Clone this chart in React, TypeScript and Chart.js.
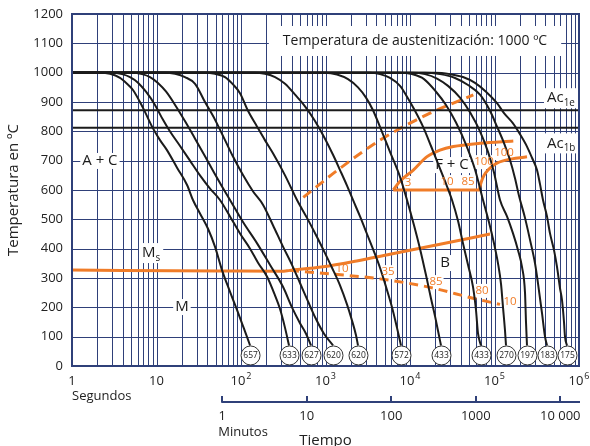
import React, { useEffect, useRef } from "react";
import { Chart, registerables } from "chart.js";

Chart.register(...registerables);

const FONT = '"Open Sans", "Noto Sans", "DejaVu Sans", sans-serif';
const NAVY = "#2f4079";
const ORANGE = "#f07c28";
const INK = "#1b1b1b";

type P = [number, number]; // [seconds, °C]

// ---- axes ----
const tempTicks = [0, 100, 200, 300, 400, 500, 600, 700, 800, 900, 1000, 1100, 1200];
const secondDecades = [1, 10, 100, 1000, 10000, 100000, 1000000];
const secondDecadeExp = ["", "", "2", "3", "4", "5", "6"];
const minuteTicks = [1, 10, 100, 1000, 10000];
const minuteTickLabels = ["1", "10", "100", "1000", "10 000"];
const SECONDS_PER_MINUTE = 60;

// ---- critical temperatures ----
const ac1e = 872;
const ac1b = 812;

// ---- cooling curves (time s, temperature °C) ----
const curve657: P[] = [[1,1000],[2.14,1000],[2.82,996],[3.7,982],[4.48,962],[5.27,941],[6.92,880],[9.09,810],[11,770],[13.3,736],[17.5,676],[23,617],[27,566],[32.7,520],[40.7,468],[49.2,407],[59.6,327],[72.1,262],[89.7,191],[106,135],[121,90],[128,70]];
const curve633: P[] = [[1,1000],[2.97,1000],[3.91,995],[4.86,985],[6.04,966],[7.51,935],[9.6,890],[11.9,840],[14.4,800],[19,750],[24.9,700],[32.7,650],[43,605],[56.4,566],[74.1,510],[97.3,452],[128,400],[159,352],[203,305],[253,240],[289,195],[332,130],[370,70]];
const curve627: P[] = [[1,1000],[5.13,1000],[6.74,995],[8.38,985],[10.4,965],[13,935],[16.6,890],[21.7,835],[28.6,775],[37.5,715],[47.9,660],[59.6,612],[74.1,566],[106,490],[155,418],[220,345],[314,270],[401,200],[499,146],[588,110],[674,70]];
const curve620a: P[] = [[1,1000],[12.6,1000],[16.6,996],[21.7,985],[28.6,962],[37.5,900],[49.2,840],[64.7,770],[80.4,714],[106,650],[139,595],[182,550],[239,480],[314,407],[401,345],[499,283],[621,220],[772,160],[960,110],[1227,70]];
const curve620b: P[] = [[1,1000],[37.5,1000],[49.2,996],[64.7,985],[80.4,960],[97.3,930],[121,870],[155,816],[192,770],[239,725],[332,650],[460,566],[604,505],[793,440],[986,385],[1194,335],[1485,275],[1796,210],[2059,155],[2296,105],[2424,70]];
const curve572: P[] = [[1,1000],[146,1000],[192,996],[253,985],[332,962],[436,925],[572,885],[751,835],[986,775],[1227,720],[1485,668],[1796,615],[2115,566],[2561,510],[3099,450],[3750,390],[4416,335],[5200,270],[6124,200],[7019,130],[7826,70]];
const curve433a: P[] = [[1,1000],[986,1000],[1368,994],[1846,978],[2424,950],[3016,915],[3649,872],[4416,815],[5799,730],[7616,645],[9216,566],[11150,480],[13130,400],[15460,310],[17720,230],[19770,170],[21450,120],[23280,70]];
const curve433b: P[] = [[1,1000],[3362,1000],[4416,995],[5799,982],[7616,955],[9216,918],[11460,870],[14250,816],[17720,750],[21450,690],[25960,630],[31410,566],[36980,495],[42390,418],[48580,345],[55670,270],[60410,190],[63800,111],[69240,70]];
const curve270: P[] = [[1,1000],[7616,1000],[10560,995],[14650,978],[20310,935],[26670,890],[35030,830],[45990,755],[58790,670],[73120,566],[86090,490],[98650,418],[110000,350],[119400,280],[126100,200],[133200,120],[136800,70]];
const curve197: P[] = [[1,1000],[10850,1000],[15050,995],[20870,980],[28170,955],[39060,915],[51310,865],[67380,800],[83780,730],[98650,660],[116200,566],[140600,510],[165600,452],[189800,395],[211500,338],[229600,250],[235900,150],[242400,70]];
const curve183: P[] = [[1,1000],[15050,1000],[22650,995],[34080,982],[48580,958],[67380,925],[88470,870],[107100,816],[129600,760],[152600,702],[174800,640],[195000,580],[229600,505],[263200,430],[301600,350],[327200,282],[364900,180],[396000,100],[418100,70]];
const curve175: P[] = [[1,1000],[19770,1000],[29750,995],[42390,985],[58790,965],[79320,935],[107100,896],[129600,862],[165600,827],[200400,790],[242400,748],[277800,710],[318500,668],[345500,620],[375000,566],[418100,510],[453800,452],[506000,395],[549200,338],[596000,265],[629400,225],[664500,150],[682800,100],[721000,70]];

const coolingLabels = ["657", "633", "627", "620", "620", "572", "433", "433", "270", "197", "183", "175"];
const coolingCurves = [curve657, curve633, curve627, curve620a, curve620b, curve572, curve433a, curve433b, curve270, curve197, curve183, curve175];

// ---- transformation lines ----
const msBainiteStart: P[] = [[1,327],[60,324],[300,323],[380,326],[942,338],[2340,358],[5800,381],[22650,415],[88500,450]];
const bainiteEnd: P[] = [[380,326],[1130,314],[4416,297],[17250,268],[55670,231],[116200,210]];
const ferriteStart: P[] = [[546,575],[1485,674],[4416,770],[17250,862],[56130,924]];
const ferriteUpper: P[] = [[6343,600],[7616,630],[10940,668],[15760,713],[22650,736],[32540,748],[67380,759],[166900,767]];
const ferriteLower: P[] = [[6343,600],[65560,600],[69240,625],[75110,650],[83780,668],[101400,688],[136800,702],[242400,713]];

// ---- annotations: [text, seconds, °C] ----
type L = [string, number, number];
const orangeLabels: L[] = [["3",9470,624],["10",27410,627],["85",48580,627],["100",75110,695],["100",129600,726],["10",1568,331],["35",5490,320],["85",20310,286],["80",71120,256],["10",152600,218]];
const phaseLabels: L[] = [["A + C",2.14,699],["M",20,201],["B",25960,351],["F + C",31410,685]];
type SL = [string, string, number, number]; // main, subscript, left seconds, °C
const subLabels: SL[] = [["M","s",6.74,385],["Ac","1e",418100,913],["Ac","1b",418100,759]];
const titleText = "Temperatura de austenitización: 1000 ºC";
const titlePos: P = [11460, 1108];

export default function App() {
  const ref = useRef<HTMLCanvasElement>(null);

  useEffect(() => {
    const canvas = ref.current;
    if (!canvas) return;
    const toXY = (pts: P[]) => pts.map(([x, y]) => ({ x, y }));
    const line = (pts: P[], color: string, width: number, dash: number[] = []) => ({
      data: toXY(pts),
      borderColor: color,
      borderWidth: width,
      borderDash: dash,
      pointRadius: 0,
      fill: false,
      cubicInterpolationMode: "monotone" as const,
      borderCapStyle: "butt" as const,
    });
    const datasets: any[] = [
      line([[secondDecades[0], ac1e], [secondDecades[6], ac1e]], INK, 2),
      line([[secondDecades[0], ac1b], [secondDecades[6], ac1b]], INK, 2),
      ...coolingCurves.map((c) => line(c, INK, 2)),
      line(msBainiteStart, ORANGE, 3),
      line(bainiteEnd, ORANGE, 3, [9, 6]),
      line(ferriteStart, ORANGE, 3, [10, 6]),
      line(ferriteUpper, ORANGE, 3),
      line(ferriteLower, ORANGE, 3),
    ];

    const setFont = (ctx: CanvasRenderingContext2D, px: number) => {
      ctx.font = `${px}px ${FONT}`;
    };

    type Item = { main: string; sub?: string; x: number; y: number; size: number; color: string; align: "center" | "left"; padX: number; padY: number; toRight?: boolean };

    const items = (chart: any): Item[] => {
      const { x, y } = chart.scales;
      const out: Item[] = [];
      out.push({ main: titleText, x: x.getPixelForValue(titlePos[0]), y: y.getPixelForValue(titlePos[1]), size: 14, color: INK, align: "center", padX: 14, padY: 15 });
      for (const [s, t, T] of phaseLabels) out.push({ main: s, x: x.getPixelForValue(t), y: y.getPixelForValue(T), size: 15, color: INK, align: "center", padX: 2, padY: 8 });
      for (const [s, t, T] of orangeLabels) out.push({ main: s, x: x.getPixelForValue(t), y: y.getPixelForValue(T), size: 11.5, color: ORANGE, align: "center", padX: 1, padY: 7 });
      for (const [m, s, t, T] of subLabels) out.push({ main: m, sub: s, x: x.getPixelForValue(t), y: y.getPixelForValue(T), size: 15, color: INK, align: "left", padX: 3, padY: 10, toRight: m === "Ac" });
      return out;
    };

    const measure = (ctx: CanvasRenderingContext2D, it: Item) => {
      setFont(ctx, it.size);
      const wm = ctx.measureText(it.main).width;
      let ws = 0;
      if (it.sub) {
        setFont(ctx, it.size * 0.66);
        ws = ctx.measureText(it.sub).width;
      }
      const w = wm + ws;
      const left = it.align === "center" ? it.x - w / 2 : it.x;
      return { wm, ws, w, left };
    };

    const decor = {
      id: "decor",
      beforeDatasetsDraw(chart: any) {
        const { ctx, chartArea: a } = chart;
        const { x, y } = chart.scales;
        ctx.save();
        ctx.strokeStyle = NAVY;
        ctx.lineWidth = 1;
        ctx.beginPath();
        for (let d = secondDecades[0]; d < secondDecades[6]; d *= 10) {
          for (let k = 1; k <= 9; k++) {
            const v = d * k;
            if (v <= secondDecades[0]) continue;
            const px = Math.round(x.getPixelForValue(v)) + 0.5;
            ctx.moveTo(px, a.top);
            ctx.lineTo(px, a.bottom);
          }
        }
        for (const t of tempTicks) {
          if (t === tempTicks[0] || t === tempTicks[tempTicks.length - 1]) continue;
          const py = Math.round(y.getPixelForValue(t)) + 0.5;
          ctx.moveTo(a.left, py);
          ctx.lineTo(a.right, py);
        }
        ctx.stroke();
        // white label boxes (hide grid behind labels)
        ctx.fillStyle = "#ffffff";
        for (const it of items(chart)) {
          const m = measure(ctx, it);
          const right = it.toRight ? a.right : m.left + m.w + it.padX;
          ctx.fillRect(m.left - it.padX, it.y - it.padY, right - (m.left - it.padX), it.padY * 2);
        }
        ctx.restore();
      },
      afterDatasetsDraw(chart: any) {
        const { ctx, chartArea: a } = chart;
        const { x, y } = chart.scales;
        ctx.save();
        // plot border
        ctx.strokeStyle = NAVY;
        ctx.lineWidth = 2;
        ctx.strokeRect(a.left, a.top, a.right - a.left, a.bottom - a.top);

        // circles with cooling labels
        const r = 9.5;
        coolingCurves.forEach((c, i) => {
          const end = c[c.length - 1];
          const cx = x.getPixelForValue(end[0]) + 0.5;
          const cy = y.getPixelForValue(end[1]) + r + 0.5;
          ctx.beginPath();
          ctx.arc(cx, cy, r, 0, Math.PI * 2);
          ctx.fillStyle = "#ffffff";
          ctx.fill();
          ctx.lineWidth = 1;
          ctx.strokeStyle = "#333333";
          ctx.stroke();
          setFont(ctx, 8.5);
          ctx.fillStyle = "#222222";
          ctx.textAlign = "center";
          ctx.textBaseline = "middle";
          ctx.fillText(coolingLabels[i], cx, cy + 0.5);
        });

        // labels
        ctx.textBaseline = "middle";
        for (const it of items(chart)) {
          const m = measure(ctx, it);
          ctx.fillStyle = it.color;
          ctx.textAlign = "left";
          setFont(ctx, it.size);
          ctx.fillText(it.main, m.left, it.y);
          if (it.sub) {
            setFont(ctx, it.size * 0.66);
            ctx.fillText(it.sub, m.left + m.wm, it.y + 5);
          }
        }

        // y tick labels
        ctx.fillStyle = "#222222";
        ctx.textAlign = "right";
        ctx.textBaseline = "middle";
        setFont(ctx, 13);
        for (const t of tempTicks) ctx.fillText(String(t), a.left - 9, y.getPixelForValue(t));

        // y title
        ctx.save();
        ctx.translate(14, (a.top + a.bottom) / 2);
        ctx.rotate(-Math.PI / 2);
        ctx.textAlign = "center";
        setFont(ctx, 15);
        ctx.fillText("Temperatura en ºC", 0, 0);
        ctx.restore();

        // seconds decade labels
        const ly = a.bottom + 15;
        secondDecades.forEach((v, i) => {
          const px = x.getPixelForValue(v);
          const base = i === 0 ? "1" : "10";
          const ex = secondDecadeExp[i];
          setFont(ctx, 13);
          const wb = ctx.measureText(base).width;
          setFont(ctx, 9);
          const we = ex ? ctx.measureText(ex).width + 1 : 0;
          const left = px - (wb + we) / 2;
          ctx.textAlign = "left";
          setFont(ctx, 13);
          ctx.fillText(base, left, ly);
          if (ex) {
            setFont(ctx, 9);
            ctx.fillText(ex, left + wb + 1, ly - 5);
          }
        });
        setFont(ctx, 13);
        ctx.textAlign = "left";
        ctx.fillText("Segundos", a.left, a.bottom + 30);

        // minutes axis
        const my = a.bottom + 36;
        const mx0 = x.getPixelForValue(minuteTicks[0] * SECONDS_PER_MINUTE);
        ctx.strokeStyle = NAVY;
        ctx.lineWidth = 2;
        ctx.beginPath();
        ctx.moveTo(mx0 - 1, my);
        ctx.lineTo(a.right + 1, my);
        minuteTicks.forEach((m) => {
          const px = Math.round(x.getPixelForValue(m * SECONDS_PER_MINUTE));
          ctx.moveTo(px, my);
          ctx.lineTo(px, my - 6);
        });
        ctx.stroke();
        ctx.textAlign = "center";
        setFont(ctx, 13);
        minuteTicks.forEach((m, i) => {
          ctx.fillText(minuteTickLabels[i], x.getPixelForValue(m * SECONDS_PER_MINUTE), my + 14);
        });
        ctx.textAlign = "left";
        ctx.fillText("Minutos", mx0 - 4, my + 30);
        setFont(ctx, 15);
        ctx.textAlign = "center";
        ctx.fillText("Tiempo", (a.left + a.right) / 2, my + 39);
        ctx.restore();
      },
    };

    const chart = new Chart(canvas, {
      type: "line",
      data: { datasets },
      options: {
        animation: false,
        responsive: false,
        maintainAspectRatio: false,
        devicePixelRatio: 1,
        layout: { padding: { left: 72, right: 11, top: 14, bottom: 80 } },
        plugins: { legend: { display: false }, tooltip: { enabled: false } },
        elements: { point: { radius: 0 } },
        scales: {
          x: { type: "logarithmic", min: secondDecades[0], max: secondDecades[6], display: false },
          y: { type: "linear", min: tempTicks[0], max: tempTicks[tempTicks.length - 1], display: false },
        },
      },
      plugins: [decor],
    });
    return () => chart.destroy();
  }, []);

  return (
    <div style={{ position: "fixed", left: 0, top: 0, width: 590, height: 446, background: "#ffffff" }}>
      <canvas ref={ref} width={590} height={446} style={{ display: "block", width: 590, height: 446 }} />
    </div>
  );
}
